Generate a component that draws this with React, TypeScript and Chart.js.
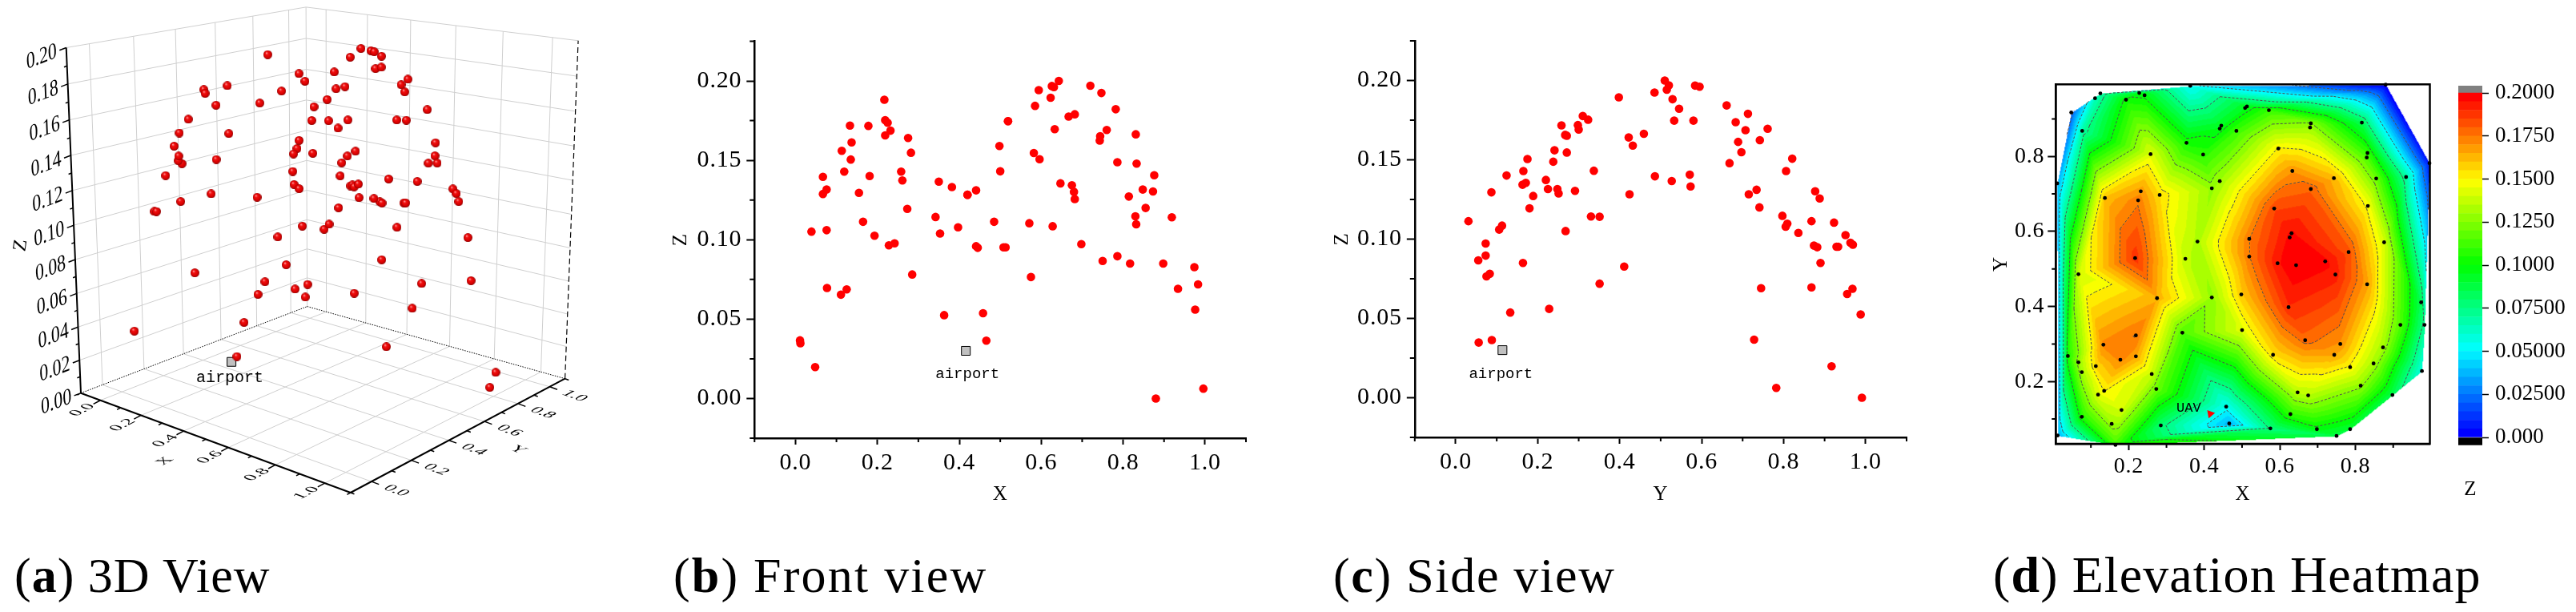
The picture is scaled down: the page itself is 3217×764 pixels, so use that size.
import React, { useEffect, useRef } from "react";
import { Chart, registerables } from "chart.js";

Chart.register(...registerables);

// ---------- data ----------
const X = [0.011,0.012,0.048,0.039,0.067,0.067,0.076,0.076,0.077,0.111,0.125,0.113,0.119,0.133,0.137,0.135,0.155,0.165,0.178,0.181,0.193,0.217,0.219,0.225,0.232,0.219,0.228,0.242,0.258,0.261,0.275,0.282,0.273,0.285,0.350,0.342,0.353,0.363,0.382,0.397,0.420,0.420,0.441,0.441,0.445,0.458,0.466,0.485,0.498,0.500,0.508,0.513,0.519,0.519,0.571,0.575,0.582,0.585,0.594,0.596,0.623,0.626,0.631,0.643,0.633,0.628,0.647,0.667,0.682,0.675,0.680,0.682,0.698,0.720,0.747,0.744,0.743,0.760,0.750,0.782,0.786,0.786,0.817,0.814,0.831,0.833,0.848,0.855,0.830,0.832,0.873,0.876,0.898,0.919,0.934,0.974,0.983,0.976,0.880,0.996];
const Y = [0.728,0.056,0.917,0.268,0.486,0.251,0.225,0.106,0.868,0.955,0.968,0.241,0.165,0.298,0.689,0.175,0.087,0.031,0.258,0.124,0.951,0.529,0.323,0.683,0.707,0.267,0.969,0.963,0.806,0.220,0.422,0.697,0.180,0.083,0.527,0.330,0.836,0.988,0.573,0.805,0.715,0.424,0.734,0.874,0.882,0.133,0.088,0.868,0.432,0.337,0.929,0.933,0.580,0.533,0.923,0.075,0.271,0.661,0.515,0.821,0.398,0.584,0.595,0.510,0.761,0.113,0.171,0.310,0.713,0.163,0.877,0.888,0.073,0.520,0.485,0.271,0.742,0.300,0.055,0.545,0.238,0.073,0.890,0.189,0.459,0.668,0.248,0.741,0.797,0.809,0.291,0.571,0.164,0.351,0.745,0.411,0.351,0.228,0.991,0.782];
const Z = [0.0366,0.0348,0.0198,0.1051,0.1396,0.1288,0.1316,0.1060,0.0696,0.0654,0.0687,0.1560,0.1429,0.1719,0.1613,0.1505,0.1295,0.1113,0.1717,0.1401,0.1025,0.1882,0.1753,0.1737,0.1687,0.1657,0.0965,0.0977,0.1429,0.1373,0.1641,0.1548,0.1194,0.0781,0.1366,0.1143,0.1039,0.0525,0.1332,0.1078,0.1283,0.1283,0.1311,0.0959,0.0949,0.0537,0.0364,0.1113,0.1590,0.1431,0.0952,0.0952,0.1747,0.1747,0.1104,0.0765,0.1546,0.1843,0.1942,0.1507,0.1894,0.1968,0.1961,0.2000,0.1696,0.1085,0.1355,0.1776,0.1790,0.1343,0.1302,0.1256,0.0972,0.1970,0.1924,0.1652,0.1624,0.1691,0.0866,0.1822,0.1488,0.0896,0.0850,0.1272,0.1664,0.1479,0.1316,0.1200,0.1147,0.1097,0.1304,0.1406,0.0850,0.1141,0.0691,0.0827,0.0719,0.0560,0.0000,0.0062];
const AIRPORT_X = [0.416];
const AIRPORT_Y = [0.114];
const AIRPORT_Z = [0.03];

const UNIT_MAJOR = [0, 0.2, 0.4, 0.6, 0.8, 1.0];
const UNIT_MINOR = [-0.1, 0.1, 0.3, 0.5, 0.7, 0.9, 1.1];
const Z_MAJOR = [0, 0.05, 0.1, 0.15, 0.2];
const Z_MINOR = [-0.025, 0.025, 0.075, 0.125, 0.175, 0.225];
const Z3D_TICKS = [0, 0.02, 0.04, 0.06, 0.08, 0.1, 0.12, 0.14, 0.16, 0.18, 0.2];
const HEAT_MAJOR = [0.2, 0.4, 0.6, 0.8];
const HEAT_MINOR = [0.1, 0.3, 0.5, 0.7, 0.9];
const CONTOUR_LEVELS = [0.025, 0.05, 0.075, 0.1, 0.125, 0.15, 0.175];
const BAR_TICKS = [0, 0.025, 0.05, 0.075, 0.1, 0.125, 0.15, 0.175, 0.2];
const BAR_LABELS = ["0.000", "0.02500", "0.05000", "0.07500", "0.1000", "0.1250", "0.1500", "0.1750", "0.2000"];
const BAND_COUNT = 40;
const BAND_STEP = 0.005;

// ---------- style ----------
const SERIF = "'Liberation Serif', serif";
const MONO = "'Liberation Mono', monospace";

const COLOR_STOPS: [number, number[]][] = [
  [0, [0, 0, 255]],
  [0.05, [0, 255, 255]],
  [0.1, [0, 255, 0]],
  [0.15, [255, 255, 0]],
  [0.2, [255, 0, 0]],
];
function rgbFor(v: number) {
  for (let i = 1; i < COLOR_STOPS.length; i++) {
    if (v <= COLOR_STOPS[i][0]) {
      const [a, ca] = COLOR_STOPS[i - 1];
      const [b, cb] = COLOR_STOPS[i];
      const t = Math.max(0, (v - a) / (b - a));
      return ca.map((c, k) => Math.round(c + (cb[k] - c) * t));
    }
  }
  return COLOR_STOPS[COLOR_STOPS.length - 1][1];
}
const bandRgb = (i: number) => rgbFor((i / (BAND_COUNT - 1)) * 0.2);

const near = (a: number, list: number[]) => list.some((b) => Math.abs(a - b) < 1e-6);

// ---------- shared 2D axis helpers ----------
function linearAxis(o: any) {
  return {
    type: "linear",
    min: o.min,
    max: o.max,
    position: o.position,
    afterFit: (s: any) => {
      if (o.width != null) s.width = o.width;
      if (o.height != null) s.height = o.height;
    },
    afterBuildTicks: (s: any) => {
      s.ticks = [...o.major, ...o.minor].sort((a, b) => a - b).map((value) => ({ value }));
    },
    border: { display: true, color: "#000", width: o.borderWidth ?? 2.5 },
    grid: {
      display: true,
      drawOnChartArea: false,
      drawTicks: true,
      tickLength: o.tickLength,
      tickWidth: 2,
      tickColor: (c: any) => (near(c.tick?.value, o.major) ? "#000" : "rgba(0,0,0,0)"),
    },
    ticks: {
      autoSkip: false,
      maxRotation: 0,
      minRotation: 0,
      padding: o.padding,
      color: "#000",
      font: { family: SERIF, size: o.fontSize },
      callback: (v: number) => (near(v, o.major) ? v.toFixed(o.digits) : ""),
    },
    title: {
      display: true,
      text: o.title,
      color: "#000",
      padding: 0,
      font: { family: SERIF, size: 25 },
    },
  };
}

function minorTicks(xMinor: number[], yMinor: number[], xLen: number, yLen: number) {
  return {
    id: "minorTicks",
    afterDraw(chart: any) {
      const { ctx, chartArea: a, scales } = chart;
      ctx.save();
      ctx.strokeStyle = "#000";
      ctx.lineWidth = 2;
      ctx.beginPath();
      xMinor.forEach((v) => {
        const p = scales.x.getPixelForValue(v);
        ctx.moveTo(p, a.bottom);
        ctx.lineTo(p, a.bottom + xLen);
      });
      yMinor.forEach((v) => {
        const p = scales.y.getPixelForValue(v);
        ctx.moveTo(a.left, p);
        ctx.lineTo(a.left - yLen, p);
      });
      ctx.stroke();
      ctx.restore();
    },
  };
}

const spacing = (value: string) => ({
  id: "spacing",
  beforeDraw(chart: any) {
    chart.ctx.letterSpacing = value;
  },
});

function airportLabel(text: string, xs: number[], ys: number[], dx: number, dy: number, size: number) {
  return {
    id: "pointLabel",
    afterDatasetsDraw(chart: any) {
      const { ctx, scales } = chart;
      ctx.save();
      ctx.letterSpacing = "0px";
      ctx.fillStyle = "#000";
      ctx.font = `${size}px ${MONO}`;
      ctx.textAlign = "center";
      ctx.textBaseline = "middle";
      ctx.fillText(text, scales.x.getPixelForValue(xs[0]) + dx, scales.y.getPixelForValue(ys[0]) + dy);
      ctx.restore();
    },
  };
}

const baseOptions = (padding: any, scales: any) => ({
  responsive: false,
  animation: false,
  events: [],
  layout: { autoPadding: false, padding },
  plugins: { legend: { display: false }, tooltip: { enabled: false }, title: { display: false } },
  scales,
});

function viewChart(canvas: HTMLCanvasElement, hs: number[], zs: number[], ax: any, title: string, labelDx: number, labelDy: number, airH: number[]) {
  return new Chart(canvas, {
    type: "scatter",
    data: {
      datasets: [
        {
          data: hs.map((h, i) => ({ x: h, y: zs[i] })),
          pointRadius: 5.3,
          pointBackgroundColor: "#ff0000",
          pointBorderWidth: 0,
          clip: false,
        },
        {
          data: airH.map((h, i) => ({ x: h, y: AIRPORT_Z[i] })),
          pointStyle: "rect",
          pointRadius: 7.8,
          pointBackgroundColor: "#c0c0c0",
          pointBorderColor: "#000",
          pointBorderWidth: 1,
        },
      ],
    },
    options: baseOptions(
      { top: ax.top, right: ax.right, left: 0, bottom: 0 },
      {
        x: linearAxis({ min: -0.1, max: 1.1, position: "bottom", major: UNIT_MAJOR, minor: UNIT_MINOR, height: ax.xHeight, tickLength: 8, padding: 5, fontSize: 30, digits: 1, title }),
        y: linearAxis({ min: -0.025, max: 0.225, position: "left", major: Z_MAJOR, minor: Z_MINOR, width: ax.yWidth, tickLength: 10, padding: 6, fontSize: 30, digits: 2, title: "Z" }),
      }
    ) as any,
    plugins: [
      spacing("0.8px"),
      minorTicks(UNIT_MINOR, Z_MINOR, 5, 6),
      airportLabel("airport", airH, AIRPORT_Z, labelDx, labelDy, 19),
    ] as any,
  });
}

// ---------- 3D view ----------
const VIEW = { A: [101, 490.7], B: [437.8, 615], C: [705.6, 472.7], D: [383.7, 382.6], Atop: [82.7, 59.5], zw: -0.055 };
function makeProjection() {
  const { A, B, C, D, Atop, zw } = VIEW;
  const d1 = [B[0] - C[0], B[1] - C[1]];
  const d2 = [D[0] - C[0], D[1] - C[1]];
  const s = [A[0] - B[0] + C[0] - D[0], A[1] - B[1] + C[1] - D[1]];
  const det = d1[0] * d2[1] - d2[0] * d1[1];
  const g = (s[0] * d2[1] - d2[0] * s[1]) / det;
  const h = (d1[0] * s[1] - s[0] * d1[1]) / det;
  const a = B[0] - A[0] + g * B[0];
  const b = D[0] - A[0] + h * D[0];
  const d = B[1] - A[1] + g * B[1];
  const e = D[1] - A[1] + h * D[1];
  const c = Atop[0] * (1 + zw) - A[0];
  const f = Atop[1] * (1 + zw) - A[1];
  return (x: number, y: number, z: number) => {
    const nx = (x + 0.1) / 1.2;
    const ny = (y + 0.1) / 1.2;
    const nz = z / 0.2;
    const w = 1 + g * nx + h * ny + zw * nz;
    return { x: (a * nx + b * ny + c * nz + A[0]) / w, y: (d * nx + e * ny + f * nz + A[1]) / w };
  };
}
const project = makeProjection();

function sphereImage(size: number) {
  const cv = document.createElement("canvas");
  cv.width = size;
  cv.height = size;
  const c = cv.getContext("2d")!;
  const r = size / 2;
  const g = c.createRadialGradient(r * 0.7, r * 0.6, 0.3, r, r, r);
  g.addColorStop(0, "#ff9a9a");
  g.addColorStop(0.3, "#f01010");
  g.addColorStop(0.75, "#d80000");
  g.addColorStop(1, "#8a0000");
  c.fillStyle = g;
  c.beginPath();
  c.arc(r, r, r, 0, Math.PI * 2);
  c.fill();
  return cv;
}

const unitOf = (x0: number, y0: number, x1: number, y1: number, k: number) => {
  const L = Math.hypot(x1 - x0, y1 - y0);
  return [((x1 - x0) / L) * k, ((y1 - y0) / L) * k];
};

const box3d = {
  id: "box3d",
  beforeDatasetsDraw(chart: any) {
    const { ctx, scales } = chart;
    const P = (x: number, y: number, z: number) => {
      const p = project(x, y, z);
      return [scales.x.getPixelForValue(p.x), scales.y.getPixelForValue(p.y)];
    };
    const seg = (a: number[], b: number[]) => {
      ctx.moveTo(a[0], a[1]);
      ctx.lineTo(b[0], b[1]);
    };
    const lo = -0.1, hi = 1.1, zt = 0.2;
    ctx.save();
    // grid
    ctx.strokeStyle = "#cfcfcf";
    ctx.lineWidth = 1;
    ctx.beginPath();
    UNIT_MAJOR.forEach((t) => {
      seg(P(t, lo, 0), P(t, hi, 0));
      seg(P(lo, t, 0), P(hi, t, 0));
      seg(P(lo, t, 0), P(lo, t, zt));
      seg(P(t, hi, 0), P(t, hi, zt));
    });
    Z3D_TICKS.slice(1).forEach((z) => {
      seg(P(lo, lo, z), P(lo, hi, z));
      seg(P(lo, hi, z), P(hi, hi, z));
    });
    seg(P(lo, hi, 0), P(lo, hi, zt));
    ctx.stroke();
    // rear floor edges
    ctx.strokeStyle = "#000";
    ctx.setLineDash([1.5, 1.5]);
    ctx.beginPath();
    seg(P(lo, lo, 0), P(lo, hi, 0));
    seg(P(lo, hi, 0), P(hi, hi, 0));
    ctx.stroke();
    // far right edge
    ctx.setLineDash([7, 4]);
    ctx.lineWidth = 1.2;
    ctx.beginPath();
    seg(P(hi, hi, 0), P(hi, hi, zt));
    ctx.stroke();
    ctx.setLineDash([]);
    // axes
    ctx.lineWidth = 2;
    ctx.beginPath();
    seg(P(lo, lo, 0), P(lo, lo, zt));
    seg(P(lo, lo, 0), P(hi, lo, 0));
    seg(P(hi, lo, 0), P(hi, hi, 0));
    ctx.stroke();

    const A = P(lo, lo, 0), B = P(hi, lo, 0), C = P(hi, hi, 0), D = P(lo, hi, 0), T = P(lo, lo, zt);
    const outX = unitOf(C[0], C[1], B[0], B[1], 1);
    const outY = unitOf(A[0], A[1], B[0], B[1], 1);
    const wall = unitOf(A[0], A[1], D[0], D[1], 1);
    const zDown = unitOf(T[0], T[1], A[0], A[1], 1);

    // tick marks
    ctx.lineWidth = 1.5;
    ctx.beginPath();
    const tick = (p: number[], v: number[], l: number) => seg(p, [p[0] + v[0] * l, p[1] + v[1] * l]);
    UNIT_MAJOR.forEach((t) => {
      tick(P(t, lo, 0), outX, 10);
      tick(P(hi, t, 0), outY, 10);
    });
    UNIT_MINOR.forEach((t) => {
      tick(P(t, lo, 0), outX, 5);
      tick(P(hi, t, 0), outY, 5);
    });
    Z3D_TICKS.forEach((z, i) => {
      tick(P(lo, lo, z), [-wall[0], -wall[1]], 9);
      if (i > 0) tick(P(lo, lo, z - 0.01), [-wall[0], -wall[1]], 4);
    });
    ctx.stroke();

    // labels lying in the planes of the box
    const planeText = (text: string, p: number[], ex: number[], ey: number[], font: string) => {
      ctx.save();
      ctx.transform(ex[0], ex[1], ey[0], ey[1], p[0], p[1]);
      ctx.font = font;
      ctx.fillStyle = "#000";
      ctx.textAlign = "center";
      ctx.textBaseline = "middle";
      ctx.fillText(text, 0, 0);
      ctx.restore();
    };
    const eyX = [outY[0] * 0.72, outY[1] * 0.72];
    const exX = [-outX[0] * 0.85, -outX[1] * 0.85];
    const exY = [outY[0] * 0.85, outY[1] * 0.85];
    const eyY = [outX[0] * 0.72, outX[1] * 0.72];
    const exZ = [wall[0] * 0.8, wall[1] * 0.8];
    const fontSmall = `26px ${SERIF}`;
    UNIT_MAJOR.forEach((t) => {
      const a = P(t, lo, 0);
      planeText(t.toFixed(1), [a[0] + outX[0] * 26, a[1] + outX[1] * 26], exX, eyX, fontSmall);
      const b = P(hi, t, 0);
      planeText(t.toFixed(1), [b[0] + outY[0] * 33, b[1] + outY[1] * 33], exY, eyY, fontSmall);
    });
    Z3D_TICKS.forEach((z) => {
      const a = P(lo, lo, z);
      planeText(z.toFixed(2), [a[0] - wall[0] * 33, a[1] - wall[1] * 33], exZ, zDown, `29px ${SERIF}`);
    });
    const am = P(0.5, lo, 0);
    planeText("X", [am[0] + outX[0] * 58, am[1] + outX[1] * 58], exX, eyX, fontSmall);
    const bm = P(hi, 0.5, 0);
    planeText("Y", [bm[0] + outY[0] * 68, bm[1] + outY[1] * 68], exY, eyY, fontSmall);
    const cm = P(lo, lo, 0.1);
    ctx.save();
    ctx.translate(cm[0] - 66, cm[1] + 25);
    ctx.rotate(-Math.PI / 2 + 0.15);
    ctx.font = `24px ${SERIF}`;
    ctx.fillStyle = "#000";
    ctx.textAlign = "center";
    ctx.textBaseline = "middle";
    ctx.fillText("Z", 0, 0);
    ctx.restore();
    ctx.restore();
  },
};

// ---------- triangulation for the heat map ----------
function delaunay(px: number[], py: number[]) {
  const pts = px.map((x, i) => [x, py[i]]);
  const n = pts.length;
  pts.push([-1000, -1000], [3000, -1000], [0.5, 3000]);
  let tris: number[][] = [[n, n + 1, n + 2]];
  const inCircle = (t: number[], p: number[]) => {
    const [a, b, c] = t.map((i) => pts[i]);
    const ax = a[0] - p[0], ay = a[1] - p[1];
    const bx = b[0] - p[0], by = b[1] - p[1];
    const cx = c[0] - p[0], cy = c[1] - p[1];
    const det =
      (ax * ax + ay * ay) * (bx * cy - cx * by) -
      (bx * bx + by * by) * (ax * cy - cx * ay) +
      (cx * cx + cy * cy) * (ax * by - bx * ay);
    const orient = (b[0] - a[0]) * (c[1] - a[1]) - (b[1] - a[1]) * (c[0] - a[0]);
    return orient > 0 ? det > 0 : det < 0;
  };
  for (let i = 0; i < n; i++) {
    const bad: number[][] = [];
    const keep: number[][] = [];
    tris.forEach((t) => (inCircle(t, pts[i]) ? bad : keep).push(t));
    const edges = new Map<string, number[]>();
    bad.forEach((t) => {
      [[t[0], t[1]], [t[1], t[2]], [t[2], t[0]]].forEach(([p, q]) => {
        const key = p < q ? `${p}_${q}` : `${q}_${p}`;
        if (edges.has(key)) edges.delete(key);
        else edges.set(key, [p, q]);
      });
    });
    edges.forEach(([p, q]) => keep.push([p, q, i]));
    tris = keep;
  }
  return tris.filter((t) => t.every((i) => i < n));
}

const heatLayer = {
  id: "heatLayer",
  beforeDatasetsDraw(chart: any) {
    const { ctx, chartArea: area, scales } = chart;
    const sx = X.map((v) => scales.x.getPixelForValue(v) - area.left);
    const sy = Y.map((v) => scales.y.getPixelForValue(v) - area.top);
    const w = Math.ceil(area.width), h = Math.ceil(area.height);
    const off = document.createElement("canvas");
    off.width = w;
    off.height = h;
    const oc = off.getContext("2d")!;
    const img = oc.createImageData(w, h);
    const tris = delaunay(X, Y);
    tris.forEach(([a, b, c]) => {
      const x0 = Math.max(0, Math.floor(Math.min(sx[a], sx[b], sx[c])));
      const x1 = Math.min(w - 1, Math.ceil(Math.max(sx[a], sx[b], sx[c])));
      const y0 = Math.max(0, Math.floor(Math.min(sy[a], sy[b], sy[c])));
      const y1 = Math.min(h - 1, Math.ceil(Math.max(sy[a], sy[b], sy[c])));
      const d = (sy[b] - sy[c]) * (sx[a] - sx[c]) + (sx[c] - sx[b]) * (sy[a] - sy[c]);
      if (Math.abs(d) < 1e-9) return;
      for (let yy = y0; yy <= y1; yy++) {
        for (let xx = x0; xx <= x1; xx++) {
          const l0 = ((sy[b] - sy[c]) * (xx - sx[c]) + (sx[c] - sx[b]) * (yy - sy[c])) / d;
          const l1 = ((sy[c] - sy[a]) * (xx - sx[c]) + (sx[a] - sx[c]) * (yy - sy[c])) / d;
          const l2 = 1 - l0 - l1;
          if (l0 < -0.001 || l1 < -0.001 || l2 < -0.001) continue;
          const z = l0 * Z[a] + l1 * Z[b] + l2 * Z[c];
          const band = Math.min(BAND_COUNT - 1, Math.max(0, Math.floor(z / BAND_STEP)));
          const rgb = bandRgb(band);
          const o = (yy * w + xx) * 4;
          img.data[o] = rgb[0];
          img.data[o + 1] = rgb[1];
          img.data[o + 2] = rgb[2];
          img.data[o + 3] = 255;
        }
      }
    });
    oc.putImageData(img, 0, 0);
    ctx.drawImage(off, area.left, area.top);
    // contour lines
    ctx.save();
    ctx.strokeStyle = "#505050";
    ctx.lineWidth = 1;
    ctx.setLineDash([3, 2]);
    ctx.beginPath();
    tris.forEach((t) => {
      CONTOUR_LEVELS.forEach((L) => {
        const hits: number[][] = [];
        [[t[0], t[1]], [t[1], t[2]], [t[2], t[0]]].forEach(([p, q]) => {
          if ((Z[p] - L) * (Z[q] - L) < 0) {
            const k = (L - Z[p]) / (Z[q] - Z[p]);
            hits.push([sx[p] + (sx[q] - sx[p]) * k + area.left, sy[p] + (sy[q] - sy[p]) * k + area.top]);
          }
        });
        if (hits.length === 2) {
          ctx.moveTo(hits[0][0], hits[0][1]);
          ctx.lineTo(hits[1][0], hits[1][1]);
        }
      });
    });
    ctx.stroke();
    ctx.restore();
  },
  afterDatasetsDraw(chart: any) {
    const { ctx, chartArea: a, scales } = chart;
    ctx.save();
    ctx.strokeStyle = "#000";
    ctx.lineWidth = 2.5;
    ctx.strokeRect(a.left, a.top, a.width, a.height);
    ctx.letterSpacing = "0px";
    ctx.fillStyle = "#000";
    ctx.font = `17px ${MONO}`;
    ctx.textAlign = "center";
    ctx.textBaseline = "middle";
    ctx.fillText("UAV", scales.x.getPixelForValue(AIRPORT_X[0]) - 27, scales.y.getPixelForValue(AIRPORT_Y[0]) - 7);
    ctx.restore();
  },
};

// ---------- layout ----------
const CAPTIONS = [
  { left: 18, letter: "a", text: "3D View", size: 62, spacing: 1 },
  { left: 841, letter: "b", text: "Front view", size: 62, spacing: 2.2 },
  { left: 1665, letter: "c", text: "Side view", size: 62, spacing: 1.7 },
  { left: 2489, letter: "d", text: "Elevation Heatmap", size: 64, spacing: 1.1 },
];

const canvasStyle = (left: number, width: number, height: number): React.CSSProperties => ({
  position: "absolute",
  left,
  top: 0,
  width,
  height,
});

export default function App() {
  const aRef = useRef<HTMLCanvasElement>(null);
  const bRef = useRef<HTMLCanvasElement>(null);
  const cRef = useRef<HTMLCanvasElement>(null);
  const dRef = useRef<HTMLCanvasElement>(null);
  const eRef = useRef<HTMLCanvasElement>(null);

  useEffect(() => {
    const charts: Chart[] = [];
    const sphere = sphereImage(11);
    const pts3d = X.map((x, i) => project(x, Y[i], Z[i]));
    const air3d = AIRPORT_X.map((x, i) => project(x, AIRPORT_Y[i], AIRPORT_Z[i]));
    charts.push(
      new Chart(aRef.current!, {
        type: "scatter",
        data: {
          datasets: [
            { data: pts3d, pointStyle: sphere as any, pointRadius: 5, clip: false } as any,
            {
              data: air3d,
              pointStyle: "rect",
              pointRadius: 7.8,
              pointBackgroundColor: "#c0c0c0",
              pointBorderColor: "#000",
              pointBorderWidth: 1,
            },
          ],
        },
        options: baseOptions(0, {
          x: { type: "linear", min: 0, max: 800, display: false },
          y: { type: "linear", min: 0, max: 660, reverse: true, display: false },
        }) as any,
        plugins: [
          box3d,
          {
            id: "airLabel",
            afterDatasetsDraw(chart: any) {
              const { ctx, scales } = chart;
              ctx.save();
              ctx.fillStyle = "#000";
              ctx.font = `20px ${MONO}`;
              ctx.textAlign = "center";
              ctx.textBaseline = "middle";
              ctx.fillText("airport", scales.x.getPixelForValue(air3d[0].x) - 2, scales.y.getPixelForValue(air3d[0].y) + 20);
              ctx.restore();
            },
          },
        ] as any,
      })
    );
    charts.push(viewChart(bRef.current!, X, Z, { top: 51.5, right: 14, xHeight: 85, yWidth: 107.3 }, "X", 2, 29, AIRPORT_X));
    charts.push(viewChart(cRef.current!, Y, Z, { top: 51, right: 14, xHeight: 86, yWidth: 105.8 }, "Y", -2, 30, AIRPORT_Y));
    charts.push(
      new Chart(dRef.current!, {
        type: "scatter",
        data: {
          datasets: [
            {
              data: X.map((x, i) => ({ x, y: Y[i] })),
              pointRadius: 2.4,
              pointBackgroundColor: "#000",
              pointBorderWidth: 0,
              clip: false,
            },
            {
              data: AIRPORT_X.map((x, i) => ({ x, y: AIRPORT_Y[i] })),
              pointStyle: "triangle",
              pointRadius: 6,
              rotation: 200,
              pointBackgroundColor: "#ff0000",
              pointBorderWidth: 0,
            },
          ],
        },
        options: baseOptions(
          { top: 105.3, right: 4.5, left: 0, bottom: 0 },
          {
            x: linearAxis({ min: 0.007, max: 0.997, position: "bottom", major: HEAT_MAJOR, minor: HEAT_MINOR, height: 78, tickLength: 8, padding: 4, fontSize: 28, digits: 1, title: "X" }),
            y: linearAxis({ min: 0.034, max: 0.992, position: "left", major: HEAT_MAJOR, minor: HEAT_MINOR, width: 83.3, tickLength: 10, padding: 4, fontSize: 28, digits: 1, title: "Y" }),
          }
        ) as any,
        plugins: [spacing("0.8px"), heatLayer, minorTicks(HEAT_MINOR, HEAT_MINOR, 5, 5)] as any,
      })
    );
    const bands = Array.from({ length: BAND_COUNT }, (_, i) => i);
    charts.push(
      new Chart(eRef.current!, {
        type: "bar",
        data: {
          labels: ["Z"],
          datasets: [
            { data: [[-0.0045, 0]], backgroundColor: "#000" },
            ...bands.map((i) => ({
              data: [[i * BAND_STEP, (i + 1) * BAND_STEP]],
              backgroundColor: `rgb(${bandRgb(i).join(",")})`,
            })),
            { data: [[0.2, 0.2042]], backgroundColor: "#808080" },
          ].map((d) => ({ ...d, grouped: false, barPercentage: 1, categoryPercentage: 1, borderWidth: 0 })) as any,
        },
        options: baseOptions(
          { top: 107, right: 0, left: 10, bottom: 0 },
          {
            x: {
              afterFit: (s: any) => {
                s.height = 70.3;
              },
              border: { display: false },
              grid: { display: false },
              ticks: { display: false },
              title: { display: true, text: "Z", color: "#000", padding: 0, font: { family: SERIF, size: 25 } },
            },
            y: {
              type: "linear",
              position: "right",
              min: -0.0045,
              max: 0.2042,
              afterFit: (s: any) => {
                s.width = 117;
              },
              afterBuildTicks: (s: any) => {
                s.ticks = BAR_TICKS.map((value) => ({ value }));
              },
              border: { display: false },
              grid: { display: true, drawOnChartArea: false, tickLength: 8, tickWidth: 1.5, tickColor: "#000" },
              ticks: {
                autoSkip: false,
                padding: 8,
                color: "#000",
                font: { family: SERIF, size: 27 },
                callback: (_: number, i: number) => BAR_LABELS[i],
              },
            },
          }
        ) as any,
      })
    );
    return () => charts.forEach((c) => c.destroy());
  }, []);

  return (
    <div style={{ position: "absolute", left: 0, top: 0, width: 3217, height: 764, background: "#fff", overflow: "hidden" }}>
      <canvas ref={aRef} width={800} height={660} style={canvasStyle(0, 800, 660)} />
      <canvas ref={bRef} width={735} height={632} style={canvasStyle(835, 735, 632)} />
      <canvas ref={cRef} width={734} height={632} style={canvasStyle(1661, 734, 632)} />
      <canvas ref={dRef} width={555} height={632} style={canvasStyle(2484, 555, 632)} />
      <canvas ref={eRef} width={157} height={626} style={canvasStyle(3060, 157, 626)} />
      {CAPTIONS.map((c) => (
        <div
          key={c.letter}
          style={{
            position: "absolute",
            left: c.left,
            top: 683,
            lineHeight: "70px",
            whiteSpace: "nowrap",
            fontFamily: SERIF,
            fontSize: c.size,
            letterSpacing: c.spacing,
            color: "#000",
          }}
        >
          (<b>{c.letter}</b>) {c.text}
        </div>
      ))}
    </div>
  );
}
